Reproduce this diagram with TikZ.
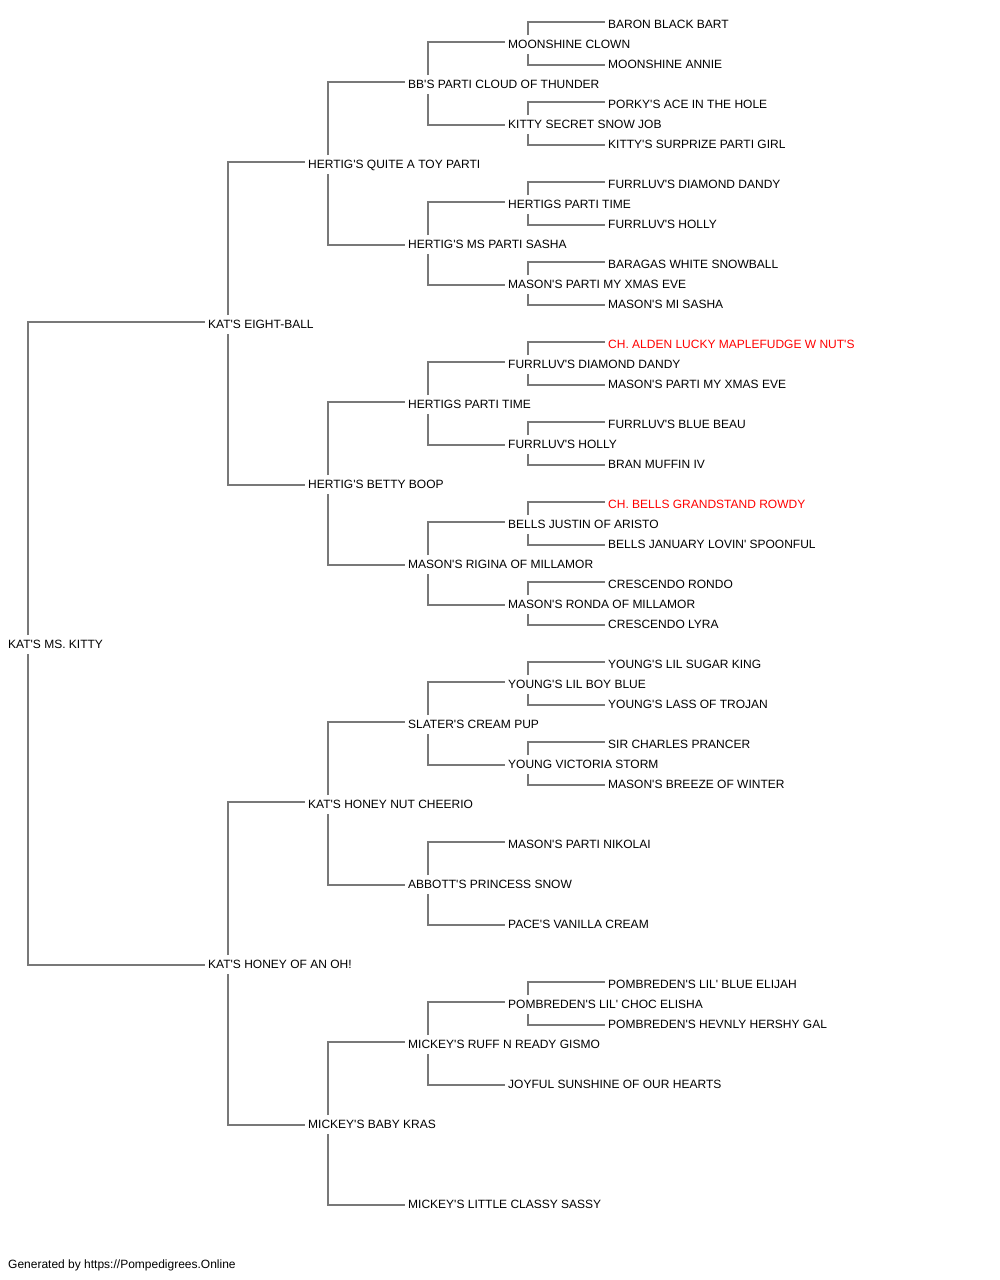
\documentclass[tikz,border=0pt]{standalone}
\usepackage{fontspec}
\setmainfont{Liberation Sans}[Ligatures=TeXOff]
\usetikzlibrary{calc}
\definecolor{linegray}{RGB}{120,120,120}
\definecolor{champ}{RGB}{255,0,0}
\tikzset{
  dog/.style={anchor=west, inner sep=0pt, text height=8.6pt, text depth=0pt, font=\fontsize{12}{12}\selectfont},
  champion/.style={dog, text=champ},
  conn/.style={draw=linegray, line width=1.4pt}
}
\newcommand\pedS[2]{\draw[conn] ($(#1.west)+(20,-9)$) |- ($(#2.west)+(-3,-2)$);}
\newcommand\pedD[2]{\draw[conn] ($(#1.west)+(20,10)$) |- ($(#2.west)+(-3,1)$);}
\begin{document}
\begin{tikzpicture}[x=1pt,y=-1pt]
\useasboundingbox (0,0) rectangle (1000,1280);
% generation 0
\node[dog] (r) at (8,644) {KAT'S MS. KITTY};
% generation 1
\node[dog] (s) at (208,324) {KAT'S EIGHT-BALL};
\node[dog] (d) at (208,964) {KAT'S HONEY OF AN OH!};
% generation 2
\node[dog] (ss) at (308,164) {HERTIG'S QUITE A TOY PARTI};
\node[dog] (sd) at (308,484) {HERTIG'S BETTY BOOP};
\node[dog] (ds) at (308,804) {KAT'S HONEY NUT CHEERIO};
\node[dog] (dd) at (308,1124) {MICKEY'S BABY KRAS};
% generation 3
\node[dog] (sss) at (408,84) {BB'S PARTI CLOUD OF THUNDER};
\node[dog] (ssd) at (408,244) {HERTIG'S MS PARTI SASHA};
\node[dog] (sds) at (408,404) {HERTIGS PARTI TIME};
\node[dog] (sdd) at (408,564) {MASON'S RIGINA OF MILLAMOR};
\node[dog] (dss) at (408,724) {SLATER'S CREAM PUP};
\node[dog] (dsd) at (408,884) {ABBOTT'S PRINCESS SNOW};
\node[dog] (dds) at (408,1044) {MICKEY'S RUFF N READY GISMO};
\node[dog] (ddd) at (408,1204) {MICKEY'S LITTLE CLASSY SASSY};
% generation 4
\node[dog] (ssss) at (508,44) {MOONSHINE CLOWN};
\node[dog] (sssd) at (508,124) {KITTY SECRET SNOW JOB};
\node[dog] (ssds) at (508,204) {HERTIGS PARTI TIME};
\node[dog] (ssdd) at (508,284) {MASON'S PARTI MY XMAS EVE};
\node[dog] (sdss) at (508,364) {FURRLUV'S DIAMOND DANDY};
\node[dog] (sdsd) at (508,444) {FURRLUV'S HOLLY};
\node[dog] (sdds) at (508,524) {BELLS JUSTIN OF ARISTO};
\node[dog] (sddd) at (508,604) {MASON'S RONDA OF MILLAMOR};
\node[dog] (dsss) at (508,684) {YOUNG'S LIL BOY BLUE};
\node[dog] (dssd) at (508,764) {YOUNG VICTORIA STORM};
\node[dog] (dsds) at (508,844) {MASON'S PARTI NIKOLAI};
\node[dog] (dsdd) at (508,924) {PACE'S VANILLA CREAM};
\node[dog] (ddss) at (508,1004) {POMBREDEN'S LIL' CHOC ELISHA};
\node[dog] (ddsd) at (508,1084) {JOYFUL SUNSHINE OF OUR HEARTS};
% generation 5
\node[dog] (sssss) at (608,24) {BARON BLACK BART};
\node[dog] (ssssd) at (608,64) {MOONSHINE ANNIE};
\node[dog] (sssds) at (608,104) {PORKY'S ACE IN THE HOLE};
\node[dog] (sssdd) at (608,144) {KITTY'S SURPRIZE PARTI GIRL};
\node[dog] (ssdss) at (608,184) {FURRLUV'S DIAMOND DANDY};
\node[dog] (ssdsd) at (608,224) {FURRLUV'S HOLLY};
\node[dog] (ssdds) at (608,264) {BARAGAS WHITE SNOWBALL};
\node[dog] (ssddd) at (608,304) {MASON'S MI SASHA};
\node[champion] (sdsss) at (608,344) {CH. ALDEN LUCKY MAPLEFUDGE W NUT'S};
\node[dog] (sdssd) at (608,384) {MASON'S PARTI MY XMAS EVE};
\node[dog] (sdsds) at (608,424) {FURRLUV'S BLUE BEAU};
\node[dog] (sdsdd) at (608,464) {BRAN MUFFIN IV};
\node[champion] (sddss) at (608,504) {CH. BELLS GRANDSTAND ROWDY};
\node[dog] (sddsd) at (608,544) {BELLS JANUARY LOVIN' SPOONFUL};
\node[dog] (sddds) at (608,584) {CRESCENDO RONDO};
\node[dog] (sdddd) at (608,624) {CRESCENDO LYRA};
\node[dog] (dssss) at (608,664) {YOUNG'S LIL SUGAR KING};
\node[dog] (dsssd) at (608,704) {YOUNG'S LASS OF TROJAN};
\node[dog] (dssds) at (608,744) {SIR CHARLES PRANCER};
\node[dog] (dssdd) at (608,784) {MASON'S BREEZE OF WINTER};
\node[dog] (ddsss) at (608,984) {POMBREDEN'S LIL' BLUE ELIJAH};
\node[dog] (ddssd) at (608,1024) {POMBREDEN'S HEVNLY HERSHY GAL};
% footer
\node[dog] (footer) at (8,1264) {Generated by https://Pompedigrees.Online};
% connectors
\pedS{r}{s} \pedD{r}{d}
\pedS{s}{ss} \pedD{s}{sd}
\pedS{d}{ds} \pedD{d}{dd}
\pedS{ss}{sss} \pedD{ss}{ssd}
\pedS{sd}{sds} \pedD{sd}{sdd}
\pedS{ds}{dss} \pedD{ds}{dsd}
\pedS{dd}{dds} \pedD{dd}{ddd}
\pedS{sss}{ssss} \pedD{sss}{sssd}
\pedS{ssd}{ssds} \pedD{ssd}{ssdd}
\pedS{sds}{sdss} \pedD{sds}{sdsd}
\pedS{sdd}{sdds} \pedD{sdd}{sddd}
\pedS{dss}{dsss} \pedD{dss}{dssd}
\pedS{dsd}{dsds} \pedD{dsd}{dsdd}
\pedS{dds}{ddss} \pedD{dds}{ddsd}
\pedS{ssss}{sssss} \pedD{ssss}{ssssd}
\pedS{sssd}{sssds} \pedD{sssd}{sssdd}
\pedS{ssds}{ssdss} \pedD{ssds}{ssdsd}
\pedS{ssdd}{ssdds} \pedD{ssdd}{ssddd}
\pedS{sdss}{sdsss} \pedD{sdss}{sdssd}
\pedS{sdsd}{sdsds} \pedD{sdsd}{sdsdd}
\pedS{sdds}{sddss} \pedD{sdds}{sddsd}
\pedS{sddd}{sddds} \pedD{sddd}{sdddd}
\pedS{dsss}{dssss} \pedD{dsss}{dsssd}
\pedS{dssd}{dssds} \pedD{dssd}{dssdd}
\pedS{ddss}{ddsss} \pedD{ddss}{ddssd}
\end{tikzpicture}
\end{document}
